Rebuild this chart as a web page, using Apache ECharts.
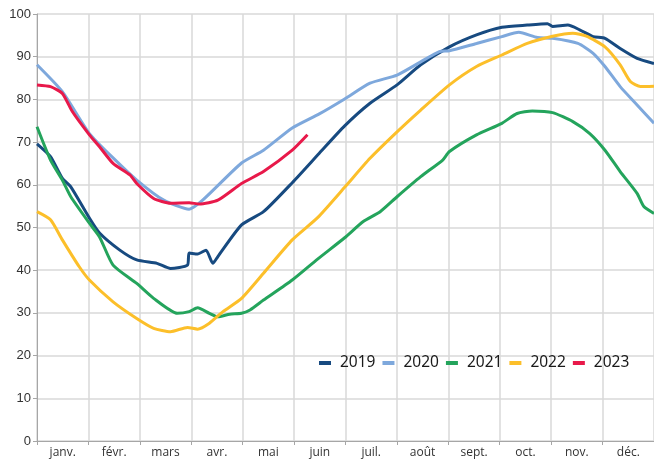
<!DOCTYPE html>
<html>
<head>
<meta charset="utf-8">
<script src="https://cdn.jsdelivr.net/npm/echarts@6/dist/echarts.min.js"></script>
<style>
    html, body { margin: 0; padding: 0; background: #fff; }
    #chart { width: 654px; height: 461px; }
</style>
</head>
<body>
<div id="chart"></div>
<script>
// mois (axe des abscisses)
const months = ['janv.', 'févr.', 'mars', 'avr.', 'mai', 'juin', 'juil.', 'août', 'sept.', 'oct.', 'nov.', 'déc.'];
const yTicks = [0, 100, 10]; // min, max, pas

// jour de l'année / valeur
const days2019 = [0, 8, 15, 20, 31, 37, 49, 59, 71, 79, 89, 90, 95, 100, 104, 107, 121, 134, 151, 167, 182, 197, 213, 227, 244, 260, 275, 290, 302, 305, 314, 321, 329, 336, 345, 355, 365];
const vals2019 = [69.6, 66.6, 61.5, 59.5, 52.2, 48.7, 44.7, 42.4, 41.6, 40.4, 41.2, 44.0, 43.8, 44.7, 41.6, 43.2, 50.6, 53.7, 60.5, 67.4, 73.8, 79.1, 83.4, 88.1, 92.3, 95.1, 96.9, 97.4, 97.7, 97.1, 97.4, 96.3, 94.7, 94.3, 91.9, 89.6, 88.4];

const days2020 = [0, 15, 31, 45, 59, 75, 90, 98, 121, 134, 151, 167, 182, 197, 213, 227, 238, 244, 260, 275, 285, 296, 305, 320, 329, 336, 345, 355, 365];
const vals2020 = [88.1, 81.8, 72.0, 66.3, 61.1, 56.4, 54.3, 56.4, 65.1, 68.1, 73.3, 76.6, 80.1, 83.8, 85.7, 88.8, 91.2, 91.4, 93.1, 94.7, 95.7, 94.5, 94.3, 93.1, 90.8, 87.7, 83.0, 78.7, 74.4];

const days2021 = [0, 8, 15, 20, 31, 37, 45, 59, 69, 83, 90, 95, 102, 107, 114, 121, 126, 134, 151, 166, 182, 193, 203, 213, 227, 240, 244, 260, 275, 284, 293, 305, 317, 327, 336, 345, 355, 359, 365];
const vals2021 = [73.6, 65.8, 61.1, 57.2, 51.0, 47.8, 41.2, 36.9, 33.4, 29.9, 30.3, 31.2, 29.9, 29.1, 29.7, 29.9, 30.7, 33.0, 37.7, 42.6, 47.6, 51.4, 53.7, 57.2, 61.9, 65.8, 67.8, 71.7, 74.4, 76.7, 77.3, 76.9, 74.8, 72.0, 68.1, 63.1, 58.0, 54.9, 53.3];

const days2022 = [0, 8, 15, 25, 31, 45, 59, 69, 79, 89, 95, 102, 110, 121, 134, 151, 166, 182, 197, 213, 227, 244, 260, 275, 290, 305, 317, 325, 336, 345, 351, 357, 365];
const vals2022 = [53.7, 51.8, 47.1, 40.8, 37.7, 32.6, 28.7, 26.4, 25.6, 26.6, 26.2, 27.6, 30.3, 33.4, 39.3, 47.1, 52.3, 59.4, 66.2, 72.4, 77.5, 83.4, 87.7, 90.4, 93.1, 94.8, 95.5, 94.8, 92.3, 88.1, 84.2, 83.0, 83.1];

const days2023 = [0, 8, 15, 21, 31, 37, 45, 55, 59, 69, 79, 90, 96, 107, 121, 134, 151, 160];
const vals2023 = [83.4, 83.0, 81.4, 77.1, 71.7, 68.9, 65.0, 62.3, 60.3, 56.8, 55.7, 55.8, 55.5, 56.4, 60.3, 63.1, 68.1, 71.7];

const zip = (d, v) => d.map((x, i) => [x, v[i]]);

const chart = echarts.init(document.getElementById('chart'));

const mkLine = (name, color, d, v) => ({
    name: name,
    type: 'line',
    xAxisIndex: 1,
    showSymbol: false,
    smooth: 0.2,
    lineStyle: { width: 3, color: color },
    itemStyle: { color: color },
    data: zip(d, v)
});

const option = {
    animation: false,
    backgroundColor: '#fff',
    grid: { left: 37, right: 0, top: 14, bottom: 20 },
    legend: {
        left: 314,
        top: 350,
        itemWidth: 12,
        itemHeight: 4,
        itemGap: 7,
        icon: 'rect',
        textStyle: { color: '#1a1a1a', fontSize: 15.5, fontFamily: 'Noto Sans', padding: [0, 0, 0, 4] },
        data: ['2019', '2020', '2021', '2022', '2023']
    },
    xAxis: [
        {
            type: 'category',
            data: months,
            boundaryGap: true,
            axisLine: { lineStyle: { color: '#a6a6a6', width: 1 } },
            axisTick: { show: true, length: 4, lineStyle: { color: '#a6a6a6' } },
            axisLabel: { color: '#333', fontSize: 12, fontFamily: 'Open Sans', margin: 6 },
            splitLine: { show: true, lineStyle: { color: '#d9d9d9', width: 1.5 } }
        },
        {
            type: 'value',
            min: 0,
            max: 365,
            show: false
        }
    ],
    yAxis: {
        type: 'value',
        min: yTicks[0],
        max: yTicks[1],
        interval: yTicks[2],
        axisLine: { show: true, lineStyle: { color: '#a6a6a6', width: 1 } },
        axisTick: { show: true, length: 4, lineStyle: { color: '#a6a6a6' } },
        axisLabel: { color: '#333', fontSize: 13, fontFamily: 'Liberation Sans', margin: 6 },
        splitLine: { lineStyle: { color: '#d9d9d9', width: 1.5 } }
    },
    series: [
        mkLine('2019', '#174a80', days2019, vals2019),
        mkLine('2020', '#7ea8dc', days2020, vals2020),
        mkLine('2021', '#24a45c', days2021, vals2021),
        mkLine('2022', '#fcbf2a', days2022, vals2022),
        mkLine('2023', '#e8194a', days2023, vals2023)
    ]
};

chart.setOption(option);
</script>
</body>
</html>
